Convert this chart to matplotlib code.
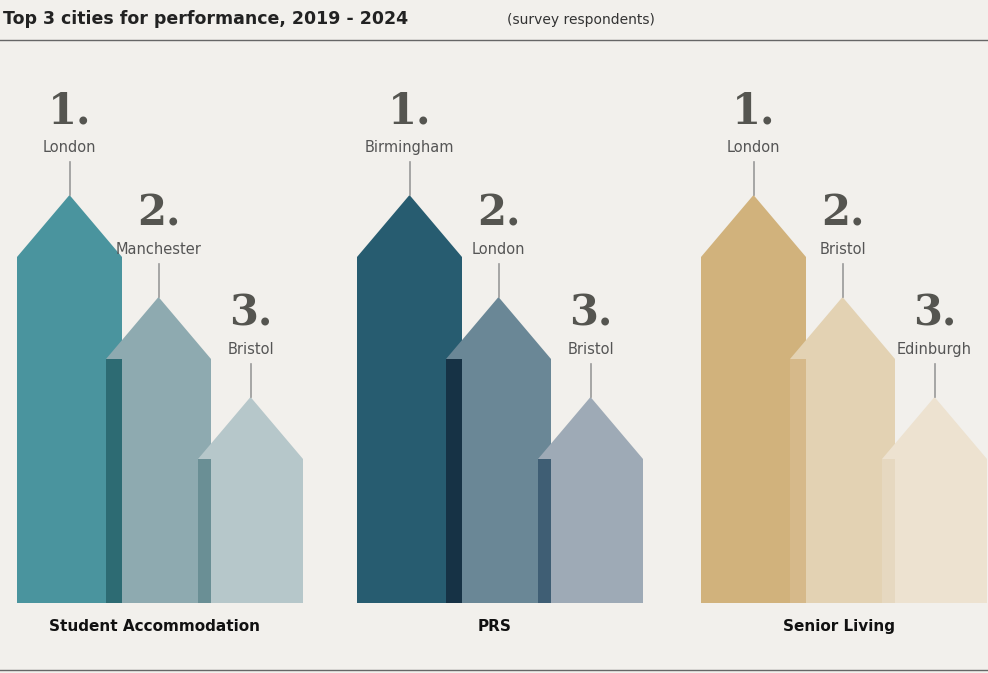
import matplotlib
matplotlib.use("Agg")
import matplotlib.pyplot as plt
from matplotlib.patches import Polygon, Rectangle

sectors = ["Student Accommodation", "PRS", "Senior Living"]
cities = [["London", "Manchester", "Bristol"],
          ["Birmingham", "London", "Bristol"],
          ["London", "Bristol", "Edinburgh"]]
ranks = ["1.", "2.", "3."]
heights = [408, 306, 206]  # peak height (relative visual scale)

colors = [["#4a949e", "#8eaab0", "#b6c7ca"],
          ["#275c70", "#6a8796", "#9eaab6"],
          ["#d1b27c", "#e3d2b3", "#ede2d0"]]
overlap = [["#2d6b73", "#6a8f95"],
           ["#163245", "#3f5e74"],
           ["#d6b98a", "#e6d8c0"]]

W, H = 988, 673
fig = plt.figure(figsize=(W/100, H/100), dpi=100)
bg = "#f2f0ec"
fig.patch.set_facecolor(bg)
ax = fig.add_axes([0, 0, 1, 1])
ax.set_xlim(0, W); ax.set_ylim(H, 0); ax.axis("off"); ax.set_facecolor(bg)

base = 603
bw = 105
shoulder = 62
gx = [17, 357, 701]
step = [0, 89, 181]
for g in range(3):
    for i in range(3):
        x0 = gx[g] + step[i]
        top = base - heights[i]
        poly = [(x0, base), (x0, top + shoulder), (x0 + bw/2, top),
                (x0 + bw, top + shoulder), (x0 + bw, base)]
        ax.add_patch(Polygon(poly, closed=True, facecolor=colors[g][i], edgecolor="none", zorder=i))
        if i > 0:
            px = gx[g] + step[i - 1] + bw
            ax.add_patch(Rectangle((x0, top + shoulder), px - x0, base - top - shoulder,
                                   facecolor=overlap[g][i - 1], edgecolor="none", zorder=i + 0.5))
        cx = x0 + bw/2
        ax.text(cx, top - 72, ranks[i], ha="center", va="baseline", fontsize=30,
                fontweight="bold", family="DejaVu Serif", color="#555550", zorder=5)
        ax.text(cx, top - 43, cities[g][i], ha="center", va="baseline", fontsize=10.5,
                color="#555555", zorder=5)
        ax.plot([cx, cx], [top - 33, top], color="#999999", lw=1.2, zorder=5)
    ax.text(gx[g] + step[1] + bw/2 - 4, 631, sectors[g], ha="center", va="baseline",
            fontsize=11, fontweight="bold", color="#111111")

ax.text(3, 24, "Top 3 cities for performance, 2019 - 2024", fontsize=12.5,
        fontweight="bold", color="#222222", va="baseline")
ax.text(507, 24, "(survey respondents)", fontsize=10, color="#333333", va="baseline")
ax.plot([0, W], [40, 40], color="#666666", lw=1)
ax.plot([0, W], [670, 670], color="#666666", lw=1)

fig.savefig("out.png", dpi=100, facecolor=bg)
